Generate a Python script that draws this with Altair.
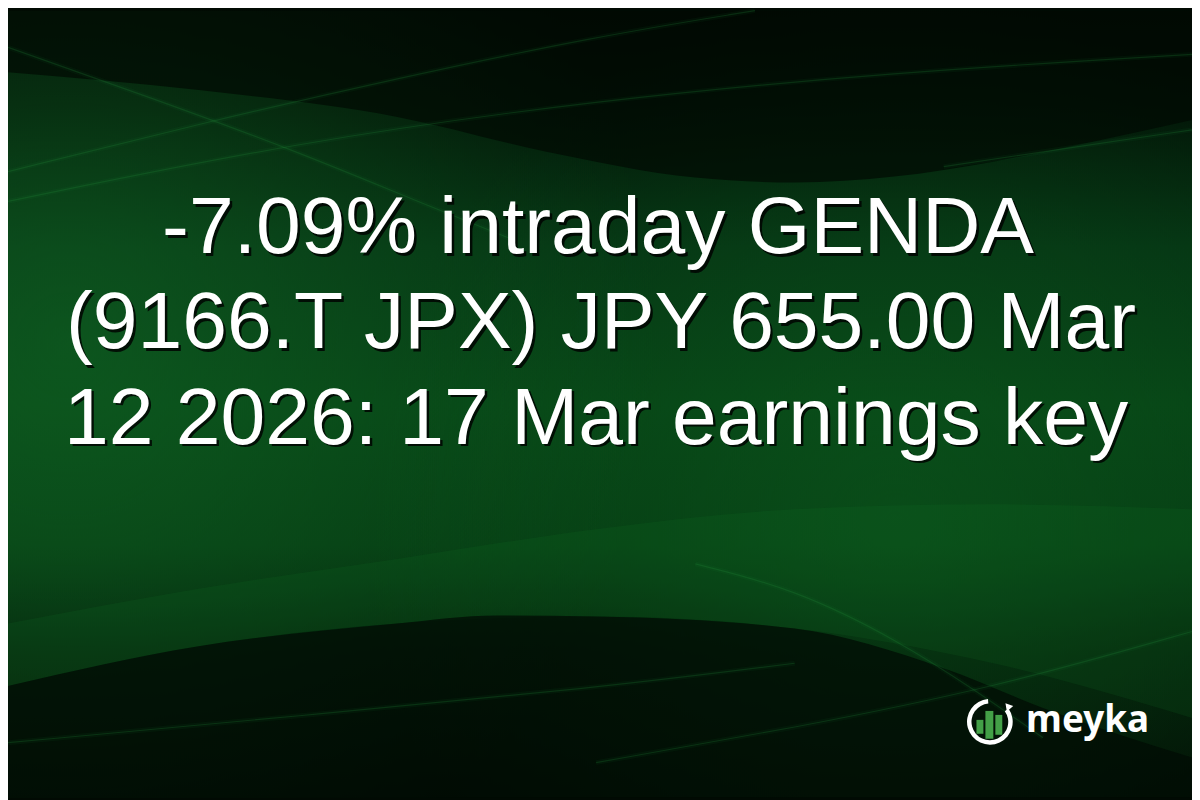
import altair as alt
import pandas as pd

# ---------------- data ----------------
title_lines = ["-7.09% intraday GENDA",
               "(9166.T JPX) JPY 655.00 Mar",
               "12 2026: 17 Mar earnings key"]
title_baselines = [252, 348, 444]
title_centers = [602, 605, 600]

# dark wave at the top (lower edge of the dark region)
top_wave_x = [8, 200, 400, 550, 700, 800, 900, 1000, 1100, 1200]
top_wave_y = [70, 88, 115, 150, 176, 181, 175, 160, 140, 118]

# dark wave at the bottom (upper edge of the dark region)
bot_wave_x = [8, 200, 400, 500, 600, 800, 950, 1050, 1200]
bot_wave_y = [688, 648, 625, 617, 618, 630, 670, 710, 760]

# lighter band above the bottom wave
band_x = [8, 200, 400, 600, 800, 1000, 1200]
band_top = [625, 590, 560, 530, 510, 505, 510]
band_bot = [688, 648, 625, 618, 630, 665, 720]

# thin light streaks
streak_id = ([1] * 5 + [2] * 5 + [3] * 5 + [4] * 3 + [5] * 4 + [6] * 4 + [7] * 5)
streak_x = ([8, 200, 400, 600, 760] +
            [8, 300, 600, 900, 1200] +
            [8, 150, 300, 420, 520] +
            [950, 1050, 1200] +
            [8, 300, 600, 800] +
            [600, 800, 1000, 1200] +
            [700, 800, 906, 983, 1050])
streak_y = ([170, 122, 76, 34, 8] +
            [200, 140, 98, 70, 52] +
            [45, 95, 150, 200, 240] +
            [165, 150, 128] +
            [745, 718, 690, 665] +
            [765, 730, 690, 633] +
            [565, 590, 643, 693, 740])

# logo
logo_center = (996.5, 724)
logo_bar_x0 = [983, 992, 1002]
logo_bar_x1 = [990, 1000, 1009]
logo_bar_top = [722, 713, 717]
logo_bar_bot = [736, 741, 737]
logo_text = "meyka"

# ---------------- scales ----------------
xs = alt.Scale(domain=[8, 1200], nice=False, zero=False)
ys = alt.Scale(domain=[8, 800], reverse=True, nice=False, zero=False)


def X(f):
    return alt.X(f, type="quantitative", scale=xs, axis=None)


def Y(f):
    return alt.Y(f, type="quantitative", scale=ys, axis=None)


W, H = 1192, 792

# ---------------- background ----------------
base = alt.Chart(pd.DataFrame({"a": [0]})).mark_rect(
    color=alt.Gradient(
        gradient="linear", x1=0, y1=0, x2=0, y2=1,
        stops=[
            alt.GradientStop(color="#010803", offset=0),
            alt.GradientStop(color="#021407", offset=0.12),
            alt.GradientStop(color="#053313", offset=0.30),
            alt.GradientStop(color="#064215", offset=0.50),
            alt.GradientStop(color="#053a12", offset=0.68),
            alt.GradientStop(color="#021a08", offset=0.82),
            alt.GradientStop(color="#010a03", offset=1),
        ])
).encode(x=alt.value(0), x2=alt.value(W), y=alt.value(0), y2=alt.value(H))

glow_left = alt.Chart(pd.DataFrame({"a": [0]})).mark_rect(
    color=alt.Gradient(
        gradient="radial", x1=0.05, y1=0.45, x2=0.05, y2=0.45, r1=0, r2=0.5,
        stops=[
            alt.GradientStop(color="rgba(18,105,38,0.55)", offset=0),
            alt.GradientStop(color="rgba(18,105,38,0.0)", offset=1),
        ])
).encode(x=alt.value(0), x2=alt.value(W), y=alt.value(0), y2=alt.value(H))

glow_right = alt.Chart(pd.DataFrame({"a": [0]})).mark_rect(
    color=alt.Gradient(
        gradient="radial", x1=0.75, y1=0.6, x2=0.75, y2=0.6, r1=0, r2=0.45,
        stops=[
            alt.GradientStop(color="rgba(14,95,32,0.45)", offset=0),
            alt.GradientStop(color="rgba(14,95,32,0.0)", offset=1),
        ])
).encode(x=alt.value(0), x2=alt.value(W), y=alt.value(0), y2=alt.value(H))

top_df = pd.DataFrame({"x": top_wave_x, "y": top_wave_y, "y0": [8] * len(top_wave_x)})
top_dark = alt.Chart(top_df).mark_area(
    interpolate="monotone", color="#010a03", opacity=0.7
).encode(x=X("x"), y=Y("y"), y2="y0")

band_df = pd.DataFrame({"x": band_x, "t": band_top, "b": band_bot})
band = alt.Chart(band_df).mark_area(
    interpolate="monotone", color="#12762a", opacity=0.15
).encode(x=X("x"), y=Y("t"), y2="b")

bot_df = pd.DataFrame({"x": bot_wave_x, "y": bot_wave_y, "y1": [800] * len(bot_wave_x)})
bot_dark = alt.Chart(bot_df).mark_area(
    interpolate="monotone", color="#010c04", opacity=0.75
).encode(x=X("x"), y=Y("y"), y2="y1")

streak_df = pd.DataFrame({"id": streak_id, "x": streak_x, "y": streak_y})
streaks_glow = alt.Chart(streak_df).mark_line(
    interpolate="basis", color="#2a9a40", strokeWidth=5, opacity=0.06
).encode(x=X("x"), y=Y("y"), detail="id:N")
streaks = alt.Chart(streak_df).mark_line(
    interpolate="basis", color="#2a9a40", strokeWidth=1.2, opacity=0.2
).encode(x=X("x"), y=Y("y"), detail="id:N")

# ---------------- title ----------------
title_df = pd.DataFrame({"t": title_lines, "x": title_centers, "y": title_baselines})
shadow = alt.Chart(title_df).mark_text(
    font="Liberation Sans", fontSize=81, color="#000000", opacity=0.8,
    align="center", baseline="alphabetic", dx=2.5, dy=2.5
).encode(x=X("x"), y=Y("y"), text="t:N")
title = alt.Chart(title_df).mark_text(
    font="Liberation Sans", fontSize=81, color="#ffffff",
    align="center", baseline="alphabetic"
).encode(x=X("x"), y=Y("y"), text="t:N")

# ---------------- logo ----------------
c_df = pd.DataFrame({"x": [logo_center[0]], "y": [logo_center[1]]})
ring = alt.Chart(c_df).mark_arc(
    innerRadius=18.5, outerRadius=23, theta=0.95, theta2=6.2, color="#ffffff"
).encode(x=X("x"), y=Y("y"))

arrow_df = pd.DataFrame({"x": [1014.5], "y": [708]})
arrow = alt.Chart(arrow_df).mark_point(
    shape="triangle-up", filled=True, color="#ffffff", size=70, angle=320, opacity=1
).encode(x=X("x"), y=Y("y"))

bars_df = pd.DataFrame({"x0": logo_bar_x0, "x1": logo_bar_x1,
                        "t": logo_bar_top, "b": logo_bar_bot})
bars = alt.Chart(bars_df).mark_rect(color="#43a047").encode(
    x=X("x0"), x2="x1", y=Y("t"), y2="b")

logo_df = pd.DataFrame({"t": [logo_text], "x": [1033], "y": [734]})
logo = alt.Chart(logo_df).mark_text(
    font="Noto Sans", fontWeight="bold", fontSize=37, color="#ffffff",
    align="left", baseline="alphabetic"
).encode(x=X("x"), y=Y("y"), text="t:N")

chart = alt.layer(
    base, glow_left, glow_right, top_dark, band, bot_dark, streaks_glow, streaks,
    shadow, title, ring, bars, arrow, logo
).properties(
    width=W, height=H, padding=0, autosize="none", background="#010a03"
).configure_view(stroke=None)

chart.save("out.html", embed_options={"renderer": "svg", "actions": False})
